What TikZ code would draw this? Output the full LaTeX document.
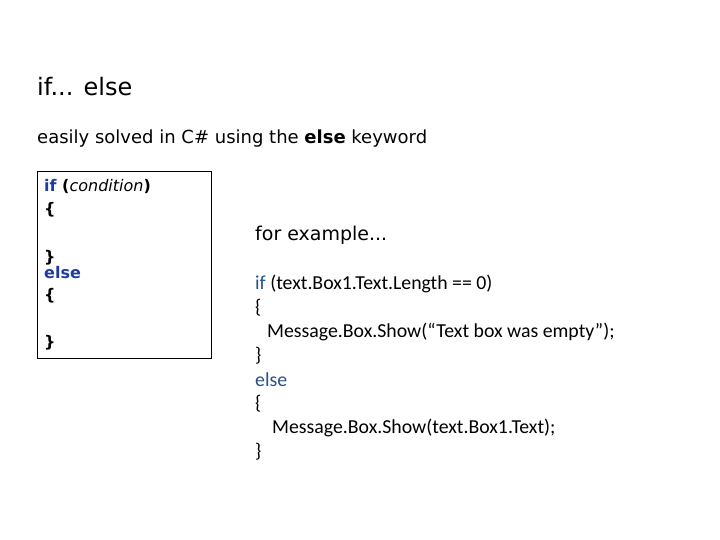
\documentclass[tikz,border=0pt]{standalone}
\usepackage{fontspec}
\setmainfont{Carlito}
\newfontfamily\comic{DejaVu Sans}
\definecolor{kw}{RGB}{30,60,160}
\definecolor{kw2}{RGB}{40,80,140}
\begin{document}
\begin{tikzpicture}[x=1pt,y=-1pt,
  t/.style={anchor=west,inner sep=0pt},
  boxtxt/.style={t,font=\comic\fontsize{16}{18}\selectfont\bfseries},
  codetxt/.style={t,font=\fontsize{19.8}{22}\selectfont}]
\useasboundingbox (0,0) rectangle (720,540);
\node[t,font=\comic\fontsize{24}{28}\selectfont] (title) at (37,87) {if... else};
\node[t,font=\comic\fontsize{18}{21}\selectfont] (sub) at (37,139) {easily solved in C\# using the \textbf{else} keyword};
\draw[thick] (37,171) rectangle (211,358);
\node[boxtxt] (l1) at (44,186) {\textcolor{kw}{if} (\textit{\mdseries condition})};
\node[boxtxt] (l2) at (44,210) {\{};
\node[boxtxt] (l3) at (44,258) {\}};
\node[boxtxt] (l4) at (44,273) {\textcolor{kw}{else}};
\node[boxtxt] (l5) at (44,296) {\{};
\node[boxtxt] (l6) at (44,343) {\}};
\node[t,font=\comic\fontsize{19}{22}\selectfont] (ex) at (255,235) {for example...};
\node[codetxt] (c1) at (255,284) {\textcolor{kw2}{if} (text.Box1.Text.Length == 0)};
\node[codetxt] (c2) at (255,308) {\{};
\node[codetxt] (c3) at (267,332) {Message.Box.Show(“Text box was empty”);};
\node[codetxt] (c4) at (255,356) {\}};
\node[codetxt] (c5) at (255,380) {\textcolor{kw2}{else}};
\node[codetxt] (c6) at (255,404) {\{};
\node[codetxt] (c7) at (272,428) {Message.Box.Show(text.Box1.Text);};
\node[codetxt] (c8) at (255,452) {\}};
\end{tikzpicture}
\end{document}
